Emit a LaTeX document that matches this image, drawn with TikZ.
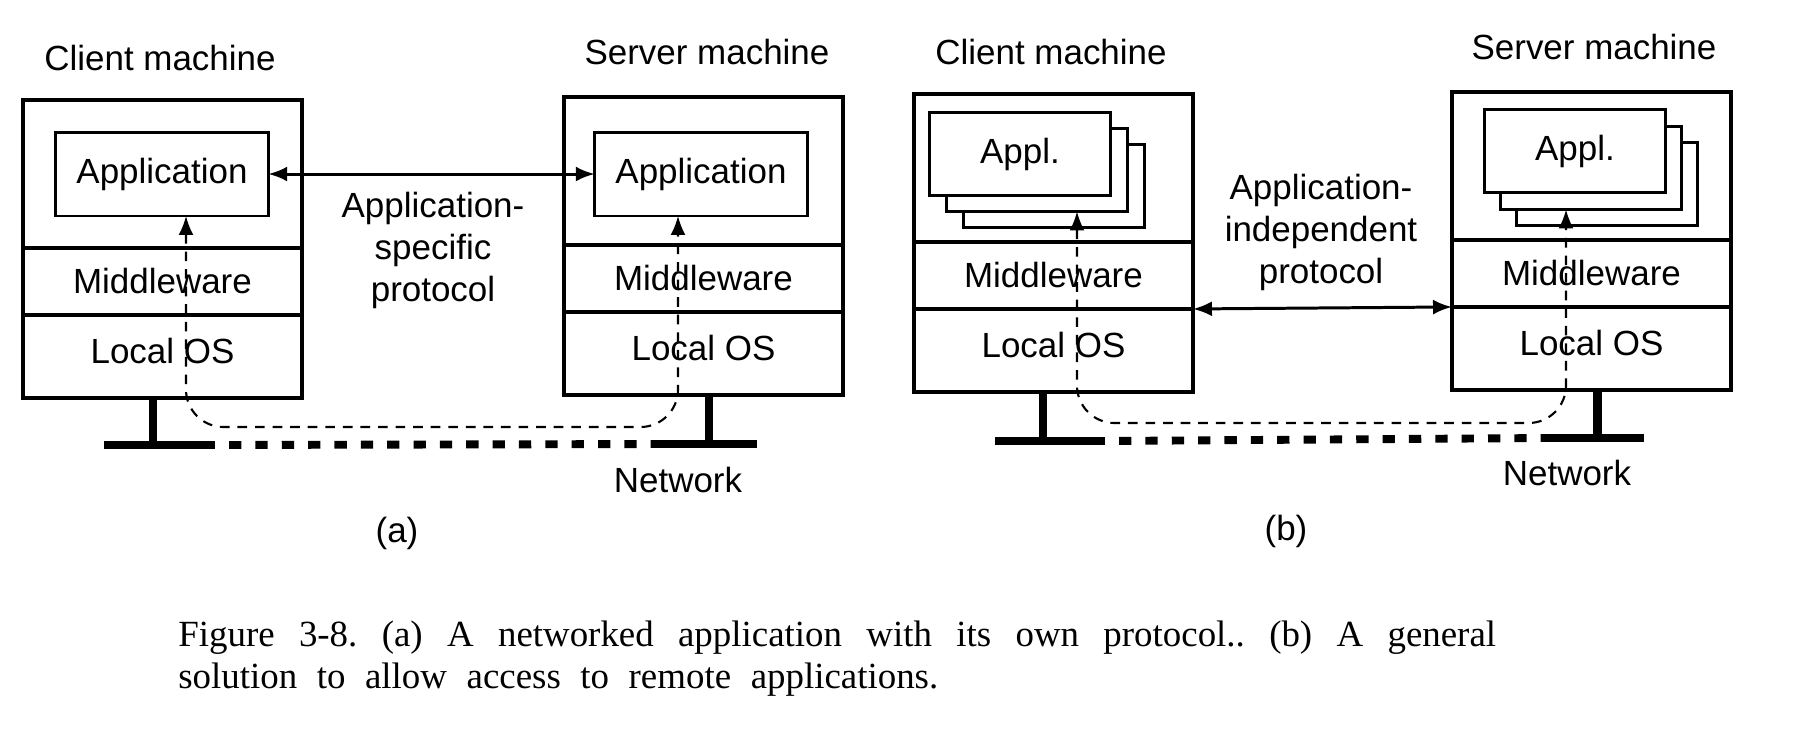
\documentclass[tikz,border=0pt]{standalone}
\usepackage{fontspec}
\setmainfont{Liberation Sans}
\newfontfamily\captionfont{Liberation Serif}
\usetikzlibrary{arrows.meta,positioning}
\tikzset{>={Latex[length=0.38cm,width=0.3cm]}}

\begin{document}
\begin{tikzpicture}[x=0.02cm,y=-0.02cm,
  every node/.style={font=\fontsize{19.9}{23.9}\selectfont},
  layer/.style={draw,line width=2.2pt,outer sep=0pt,inner sep=0pt,minimum width=5.58cm},
  oslayer/.style={layer,minimum height=1.66cm,text depth=0.22cm},
  appbox/.style={draw,line width=1.7pt,fill=white,outer sep=0pt,minimum width=4.25cm,minimum height=1.68cm},
  applbox/.style={draw,line width=1.7pt,fill=white,outer sep=0pt,minimum width=3.62cm,minimum height=1.66cm},
  talk/.style={<->,line width=1.7pt},
  flow/.style={<->,line width=1.2pt,dash pattern=on 5.5pt off 4.5pt,rounded corners=0.75cm},
  stand/.style={line width=5.1pt},
  base/.style={line width=4.5pt},
  net/.style={line width=4.5pt,dash pattern=on 7pt off 8pt,dash phase=7pt},
  capline/.style={anchor=base west,inner sep=0pt,font=\captionfont\fontsize{21}{25}\selectfont\frenchspacing}]
\useasboundingbox (0,0) rectangle (1804,748);

% (a) client machine
\node[layer,minimum height=2.96cm,anchor=north west] (c1top) at (23,100) {};
\node[layer,minimum height=1.34cm,below=0pt of c1top] (c1mid) {Middleware};
\node[oslayer,below=0pt of c1mid] (c1os) {Local OS};
\node[appbox] (c1app) at (162,174) {Application};
\node (c1name) at (160,58) {Client machine};

% (a) server machine
\node[layer,minimum height=2.96cm,anchor=north west] (s1top) at (564,97) {};
\node[layer,minimum height=1.34cm,below=0pt of s1top] (s1mid) {Middleware};
\node[oslayer,below=0pt of s1mid] (s1os) {Local OS};
\node[appbox] (s1app) at (701,174) {Application};
\node (s1name) at (707,52) {Server machine};

\draw[talk] (c1app) -- (s1app);
\node[align=center] (proto1) at (433,250) {Application-\\specific\\protocol};

\coordinate (c1turn) at (186,427);
\coordinate (s1turn) at (678,427);
\draw[flow] (c1app.south -| c1turn) -- (c1turn) -- (s1turn) -- (s1app.south -| s1turn);

% (a) network
\coordinate (c1foot) at (153,445);
\coordinate (s1foot) at (709,444);
\draw[stand] (c1os.south -| c1foot) -- (c1foot);
\draw[stand] (s1os.south -| s1foot) -- (s1foot);
\draw[base] ([xshift=-0.98cm]c1foot) -- ([xshift=1.24cm]c1foot);
\draw[base] ([xshift=-0.96cm]s1foot) -- ([xshift=0.96cm]s1foot);
\draw[net] ([xshift=1.24cm]c1foot) -- ([xshift=-0.96cm]s1foot);
\node (net1) at (678,480) {Network};
\node (lbla) at (397,533) {(a)};

% (b) client machine
\node[layer,minimum height=2.96cm,anchor=north west] (c2top) at (914,94) {};
\node[layer,minimum height=1.34cm,below=0pt of c2top] (c2mid) {Middleware};
\node[oslayer,below=0pt of c2mid] (c2os) {Local OS};
\node[applbox] (c2app3) at (1054,186) {};
\node[applbox] (c2app2) at (1037,170) {};
\node[applbox] (c2app1) at (1020,154) {Appl.};
\node (c2name) at (1051,52) {Client machine};

% (b) server machine
\node[layer,minimum height=2.96cm,anchor=north west] (s2top) at (1452,92) {};
\node[layer,minimum height=1.34cm,below=0pt of s2top] (s2mid) {Middleware};
\node[oslayer,below=0pt of s2mid] (s2os) {Local OS};
\node[applbox] (s2app3) at (1607,184) {};
\node[applbox] (s2app2) at (1591,168) {};
\node[applbox] (s2app1) at (1575,151) {Appl.};
\node (s2name) at (1594,47) {Server machine};

\draw[talk] (c2mid.south east) -- (s2mid.south west);
\node[align=center] (proto2) at (1321,232) {Application-\\independent\\protocol};

\coordinate (c2turn) at (1077,423);
\coordinate (s2turn) at (1566,423);
\draw[flow] (c2app2.south -| c2turn) -- (c2turn) -- (s2turn) -- (s2app2.south -| s2turn);

% (b) network
\coordinate (c2foot) at (1043,441);
\coordinate (s2foot) at (1597,438);
\draw[stand] (c2os.south -| c2foot) -- (c2foot);
\draw[stand] (s2os.south -| s2foot) -- (s2foot);
\draw[base] ([xshift=-0.96cm]c2foot) -- ([xshift=1.24cm]c2foot);
\draw[base] ([xshift=-1.02cm]s2foot) -- ([xshift=0.94cm]s2foot);
\draw[net] ([xshift=1.24cm]c2foot) -- ([xshift=-1.02cm]s2foot);
\node (net2) at (1567,473) {Network};
\node (lblb) at (1286,531) {(b)};

% caption
\node[capline] (cap1) at (178,646) {\makebox[26.36cm][s]{Figure 3-8. (a) A networked application with its own protocol.. (b) A general}};
\node[capline] (cap2) at (178,688) {\makebox[15.2cm][s]{solution to allow access to remote applications.}};
\end{tikzpicture}
\end{document}
